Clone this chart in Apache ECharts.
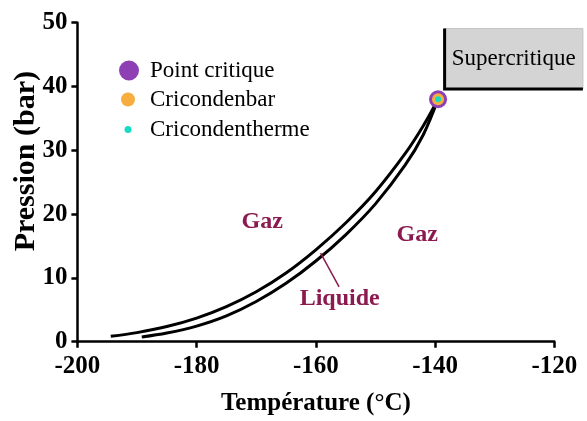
<!DOCTYPE html>
<html>
<head>
<meta charset="utf-8">
<title>Diagramme de phase</title>
<script src="https://cdn.jsdelivr.net/npm/echarts@6.0.0/dist/echarts.min.js"></script>
<style>
  html, body { margin: 0; padding: 0; background: #fff; }
  #chart { width: 587px; height: 421px; }
</style>
</head>
<body>
<div id="chart"></div>
<script>
// Courbe de bulle (gauche) et courbe de rosée (droite), [T °C, P bar]
const bubbleCurve = [
  [-194.4, 0.85], [-190, 1.42], [-185, 2.37], [-180, 3.7], [-175, 5.5],
  [-170, 7.83], [-165, 10.77], [-160, 14.4], [-155, 18.6], [-150, 23.5],
  [-145, 29.5], [-142, 33.8], [-139.5, 38]
];
const dewCurve = [
  [-189.2, 0.73], [-185, 1.35], [-180, 2.45], [-175, 4.05], [-170, 6.3],
  [-165, 9.15], [-160, 12.65], [-155, 16.75], [-150, 21.6], [-145, 27.7],
  [-142, 32.4], [-139.5, 38]
];
const criticalPoint = [[-139.5, 38]];
const cricondenbar = [[-139.5, 38]];
const cricondentherme = [[-139.5, 38]];

const regionNames = ['Gaz', 'Gaz', 'Liquide'];
const regionPositions = [[-169.0, 18.8], [-143.0, 16.7], [-156.0, 6.8]];
const liquidLeader = [[-159.2, 13.9], [-156.1, 8.6]];

const supercriticalLabel = 'Supercritique';
const supercriticalCorners = [[-138.4, 39.6], [-115.2, 49.1]];

const xTicks = { min: -200, max: -120, step: 20 };
const yTicks = { min: 0, max: 50, step: 10 };

const SERIF = '"Liberation Serif", "Times New Roman", serif';
const WINE = '#8b1a50';

const chart = echarts.init(document.getElementById('chart'), null, { renderer: 'canvas' });

const axisCommon = {
  type: 'value',
  splitLine: { show: false },
  axisLine: { show: true, onZero: false, lineStyle: { color: '#000', width: 2.5 } },
  axisTick: { show: true, length: 6, lineStyle: { color: '#000', width: 2.5 } },
  axisLabel: { color: '#000', fontFamily: SERIF, fontWeight: 'bold', fontSize: 25 },
  nameTextStyle: { color: '#000', fontFamily: SERIF, fontWeight: 'bold', fontSize: 25 }
};

function legendFor(name, left, top, size, gap) {
  return {
    data: [{ name: name, icon: 'circle' }],
    left: left, top: top, padding: 0,
    itemWidth: size, itemHeight: size,
    selectedMode: false,
    textStyle: { fontFamily: SERIF, fontSize: 23, color: '#000', padding: [0, 0, 0, gap] }
  };
}

chart.setOption({
  animation: false,
  backgroundColor: '#fff',
  grid: {
    left: 77.4, top: 22.7, width: 476.9, height: 319,
    containLabel: false, outerBoundsMode: 'none'
  },
  legend: [
    legendFor('Point critique', 119, 59, 20, 6),
    legendFor('Cricondenbar', 121, 88, 14, 10),
    legendFor('Cricondentherme', 124.5, 118, 7, 13.5)
  ],
  xAxis: Object.assign({}, axisCommon, {
    min: xTicks.min, max: xTicks.max, interval: xTicks.step,
    name: 'Température (°C)', nameLocation: 'middle', nameGap: 49,
    nameMoveOverlap: false,
    axisLabel: Object.assign({}, axisCommon.axisLabel, { margin: 12 })
  }),
  yAxis: Object.assign({}, axisCommon, {
    min: yTicks.min, max: yTicks.max, interval: yTicks.step,
    name: 'Pression (bar)', nameLocation: 'middle', nameGap: 36,
    nameMoveOverlap: false,
    nameTextStyle: Object.assign({}, axisCommon.nameTextStyle, {
      fontSize: 30, padding: [0, 0, 0, 42]
    }),
    axisLabel: Object.assign({}, axisCommon.axisLabel, { margin: 10 })
  }),
  series: [
    {
      name: 'Bulle', type: 'line', data: bubbleCurve, smooth: 0.35,
      showSymbol: false, lineStyle: { color: '#000', width: 3 }, z: 2
    },
    {
      name: 'Rosée', type: 'line', data: dewCurve, smooth: 0.35,
      showSymbol: false, lineStyle: { color: '#000', width: 3 }, z: 2
    },
    {
      name: 'Repère liquide', type: 'line', data: liquidLeader,
      showSymbol: false, lineStyle: { color: WINE, width: 1.5 }, z: 2
    },
    {
      name: 'Régions', type: 'scatter',
      data: regionPositions.map((p, i) => ({ name: regionNames[i], value: p })),
      symbolSize: 1, itemStyle: { color: 'rgba(0,0,0,0)', opacity: 1 },
      label: {
        show: true, position: 'inside', formatter: '{b}',
        color: WINE, fontFamily: SERIF, fontWeight: 'bold', fontSize: 24
      },
      z: 3
    },
    {
      name: 'Point critique', type: 'scatter', data: criticalPoint,
      symbol: 'circle', symbolSize: 18, itemStyle: { color: '#8e3fb3', opacity: 1 }, z: 4
    },
    {
      name: 'Cricondenbar', type: 'scatter', data: cricondenbar,
      symbol: 'circle', symbolSize: 12, itemStyle: { color: '#f7ae3f', opacity: 1 }, z: 5
    },
    {
      name: 'Cricondentherme', type: 'scatter', data: cricondentherme,
      symbol: 'circle', symbolSize: 6, itemStyle: { color: '#15dcc2', opacity: 1 }, z: 6
    }
  ]
});

// Zone supercritique : rectangle gris placé en coordonnées de données
function drawSupercritical() {
  const a = chart.convertToPixel({ gridIndex: 0 }, supercriticalCorners[0]);
  const b = chart.convertToPixel({ gridIndex: 0 }, supercriticalCorners[1]);
  const x0 = a[0], y0 = b[1], x1 = b[0], y1 = a[1];
  chart.setOption({
    graphic: [
      {
        type: 'rect', z: 10,
        shape: { x: x0, y: y0, width: x1 - x0, height: y1 - y0 },
        style: { fill: '#d4d4d4', stroke: '#c4c4c4', lineWidth: 1 }
      },
      {
        type: 'polyline', z: 11,
        shape: { points: [[x0, y0], [x0, y1], [x1, y1]] },
        style: { stroke: '#000', lineWidth: 3, fill: null }
      },
      {
        type: 'text', z: 12,
        x: (x0 + x1) / 2, y: (y0 + y1) / 2,
        style: {
          text: supercriticalLabel, align: 'center', verticalAlign: 'middle',
          fontFamily: SERIF, fontSize: 23, fill: '#000'
        }
      }
    ]
  });
}
drawSupercritical();
</script>
</body>
</html>
